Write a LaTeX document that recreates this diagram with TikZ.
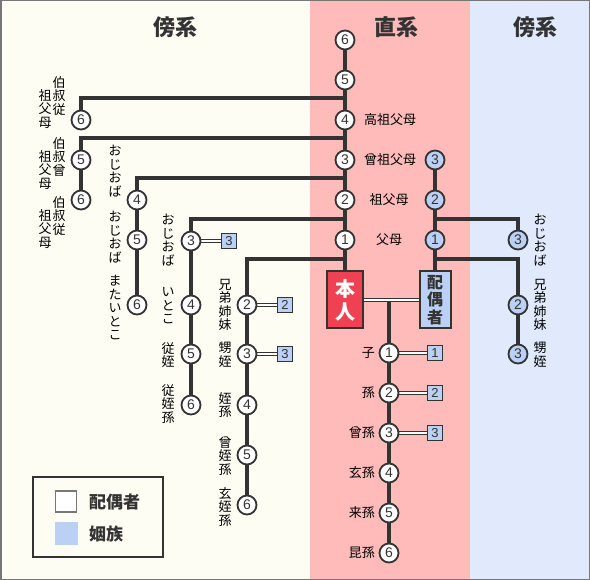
\documentclass[tikz,border=0pt]{standalone}
\usepackage{fontspec}
\newfontfamily\jp{Noto Sans CJK JP}
\newfontfamily\dg{Liberation Sans}
\definecolor{dk}{HTML}{333333}
\definecolor{creambg}{HTML}{FDFDF4}
\definecolor{pinkbg}{HTML}{FFBABA}
\definecolor{bluebg}{HTML}{E0EAFC}
\definecolor{blu}{HTML}{BBD0F5}
\definecolor{redb}{HTML}{EF4152}
\definecolor{frame}{HTML}{777777}
\pgfdeclarelayer{back}
\pgfdeclarelayer{lines}
\pgfsetlayers{back,lines,main}
\tikzset{
  circ/.style={circle, draw=dk, line width=1.8pt, fill=white, minimum size=19pt, inner sep=0pt, font=\dg\fontsize{14}{14}\selectfont, text=dk},
  bcirc/.style={circ, fill=blu},
  sq/.style={rectangle, draw=dk, line width=1.4pt, fill=blu, minimum size=15pt, inner sep=0pt, font=\dg\fontsize{13}{13}\selectfont, text=dk},
  lbl/.style={font=\jp\fontsize{13}{13.5}\selectfont, inner sep=0pt, text=black},
  vl/.style={lbl, align=center},
  ttl/.style={font=\jp\bfseries\fontsize{22}{22}\selectfont, text=dk, inner sep=0pt},
  conn/.style={draw=dk, line width=4pt},
  dbl/.style={draw=dk, line width=1pt, double=white, double distance=1.6pt},
}
\begin{document}
\begin{tikzpicture}[x=1pt,y=-1pt]
\useasboundingbox (0,0) rectangle (590,580);
\begin{pgfonlayer}{back}
\fill[creambg] (0,0) rectangle (310,580);
\fill[pinkbg] (310,0) rectangle (470,580);
\fill[bluebg] (470,0) rectangle (590,580);
\end{pgfonlayer}

% titles
\node[ttl] (t1) at (175,27) {傍系};
\node[ttl] (t2) at (396,27) {直系};
\node[ttl] (t3) at (535,27) {傍系};

% direct line
\node[circ] (d6) at (345,40) {6};
\node[circ] (d5) at (345,80) {5};
\node[circ] (d4) at (345,120) {4};
\node[circ] (d3) at (345,160) {3};
\node[circ] (d2) at (345,200) {2};
\node[circ] (d1) at (345,240) {1};
\node[lbl] (l4) at (390,120) {高祖父母};
\node[lbl] (l3) at (390,160) {曾祖父母};
\node[lbl] (l2) at (389,200) {祖父母};
\node[lbl] (l1) at (389,240) {父母};

\node[draw=dk, line width=2pt, fill=redb, minimum width=36pt, minimum height=57pt, inner sep=0pt, align=center,
  font=\jp\bfseries\fontsize{20}{23}\selectfont, text=white] (honin) at (345,300) {本\\人};
\node[draw=dk, line width=2pt, fill=blu, minimum width=31pt, minimum height=57pt, inner sep=0pt, align=center,
  font=\jp\bfseries\fontsize{16}{17.5}\selectfont, text=dk] (spouse) at (435,300) {配\\偶\\者};

% spouse ancestors
\node[bcirc] (s3) at (435,160) {3};
\node[bcirc] (s2) at (435,200) {2};
\node[bcirc] (s1) at (435,240) {1};

% right collateral
\node[bcirc] (r3a) at (518,240) {3};
\node[bcirc] (r2b) at (518,305) {2};
\node[bcirc] (r3b) at (518,354) {3};
\node[vl] (rl1) at (540,240) {お\\じ\\お\\ば};
\node[vl] (rl2) at (540,305) {兄\\弟\\姉\\妹};
\node[vl] (rl3) at (540,355) {甥\\姪};

% left collateral
\node[circ] (p6a) at (81,120) {6};
\node[circ] (p5b) at (81,160) {5};
\node[circ] (p6b) at (81,200) {6};
\node[circ] (p4c) at (137,200) {4};
\node[circ] (p5c) at (137,240) {5};
\node[circ] (p6c) at (137,305) {6};
\node[circ] (p3d) at (191,241) {3};
\node[circ] (p4d) at (191,305) {4};
\node[circ] (p5d) at (191,354) {5};
\node[circ] (p6d) at (191,405) {6};
\node[circ] (p2e) at (247,305) {2};
\node[circ] (p3e) at (247,354) {3};
\node[circ] (p4e) at (247,405) {4};
\node[circ] (p5e) at (247,455) {5};
\node[circ] (p6e) at (247,505) {6};
\node[sq] (q3d) at (229,241) {3};
\node[sq] (q2e) at (285,305) {2};
\node[sq] (q3e) at (285,354) {3};

\node[vl] (a1) at (59,96) {伯\\叔\\従};
\node[vl] (a2) at (45,109) {祖\\父\\母};
\node[vl] (b1) at (59,157) {伯\\叔\\曾};
\node[vl] (b2) at (45,170) {祖\\父\\母};
\node[vl] (e1) at (59,216) {伯\\叔\\従};
\node[vl] (e2) at (45,229) {祖\\父\\母};
\node[vl] (c1l) at (115,171) {お\\じ\\お\\ば};
\node[vl] (c2l) at (115,237) {お\\じ\\お\\ば};
\node[vl] (c3l) at (115,308) {ま\\た\\い\\と\\こ};
\node[vl] (d1l) at (168,240) {お\\じ\\お\\ば};
\node[vl] (d2l) at (168,306) {い\\と\\こ};
\node[vl] (d3l) at (168,355) {従\\姪};
\node[vl] (d4l) at (168,404) {従\\姪\\孫};
\node[vl] (e1l) at (225,305) {兄\\弟\\姉\\妹};
\node[vl] (e2l) at (225,355) {甥\\姪};
\node[vl] (e3l) at (225,405) {姪\\孫};
\node[vl] (e4l) at (225,456) {曾\\姪\\孫};
\node[vl] (e5l) at (225,507) {玄\\姪\\孫};

% descendants
\node[circ] (c1) at (389,353) {1};
\node[circ] (c2) at (389,393) {2};
\node[circ] (c3) at (389,433) {3};
\node[circ] (c4) at (389,473) {4};
\node[circ] (c5) at (389,513) {5};
\node[circ] (c6) at (389,553) {6};
\node[sq] (cq1) at (435,353) {1};
\node[sq] (cq2) at (435,393) {2};
\node[sq] (cq3) at (435,433) {3};
\node[lbl, anchor=east] (k1) at (375,353) {子};
\node[lbl, anchor=east] (k2) at (375,393) {孫};
\node[lbl, anchor=east] (k3) at (375,433) {曾孫};
\node[lbl, anchor=east] (k4) at (375,473) {玄孫};
\node[lbl, anchor=east] (k5) at (375,513) {来孫};
\node[lbl, anchor=east] (k6) at (375,553) {昆孫};

% legend
\node[draw=dk, line width=2pt, minimum width=130pt, minimum height=80pt, inner sep=0pt] (leg) at (98,517) {};
\node[draw=frame, line width=1.5pt, fill=white, minimum size=21pt, inner sep=0pt] (lw) at (66,501.5) {};
\node[fill=blu, minimum size=23pt, inner sep=0pt] (lb) at (66,533.5) {};
\node[font=\jp\bfseries\fontsize{17}{17}\selectfont, text=dk, anchor=west, inner sep=0pt] (lwt) at (89,502) {配偶者};
\node[font=\jp\bfseries\fontsize{17}{17}\selectfont, text=dk, anchor=west, inner sep=0pt] (lbt) at (89,534) {姻族};

% connectors
\coordinate (jA) at (345,98);
\coordinate (jB) at (345,138);
\coordinate (jC) at (345,178);
\coordinate (jD) at (345,219);
\coordinate (jE) at (345,259);
\coordinate (jF) at (435,219);
\coordinate (jG) at (435,259);
\coordinate (jM) at (389,302);
\begin{pgfonlayer}{lines}
\draw[conn] (d6) -- (d5) -- (d4) -- (d3) -- (d2) -- (d1) -- (honin);
\draw[conn] (s3) -- (s2) -- (s1) -- (spouse);
\draw[conn] (jA) -| (p6a);
\draw[conn] (jB) -| (p5b);
\draw[conn] (p5b) -- (p6b);
\draw[conn] (jC) -| (p4c);
\draw[conn] (p4c) -- (p5c) -- (p6c);
\draw[conn] (jD) -| (p3d);
\draw[conn] (p3d) -- (p4d) -- (p5d) -- (p6d);
\draw[conn] (jE) -| (p2e);
\draw[conn] (p2e) -- (p3e) -- (p4e) -- (p5e) -- (p6e);
\draw[conn] (jF) -| (r3a);
\draw[conn] (jG) -| (r2b);
\draw[conn] (r2b) -- (r3b);
\draw[conn] (jM) -- (c1) -- (c2) -- (c3) -- (c4) -- (c5) -- (c6);
\draw[dbl] (honin) -- (spouse);
\draw[dbl] (p3d) -- (q3d);
\draw[dbl] (p2e) -- (q2e);
\draw[dbl] (p3e) -- (q3e);
\draw[dbl] (c1) -- (cq1);
\draw[dbl] (c2) -- (cq2);
\draw[dbl] (c3) -- (cq3);
\end{pgfonlayer}

\draw[frame, line width=1.5pt] (0.75,0.75) rectangle (589.25,579.25);
\end{tikzpicture}
\end{document}
